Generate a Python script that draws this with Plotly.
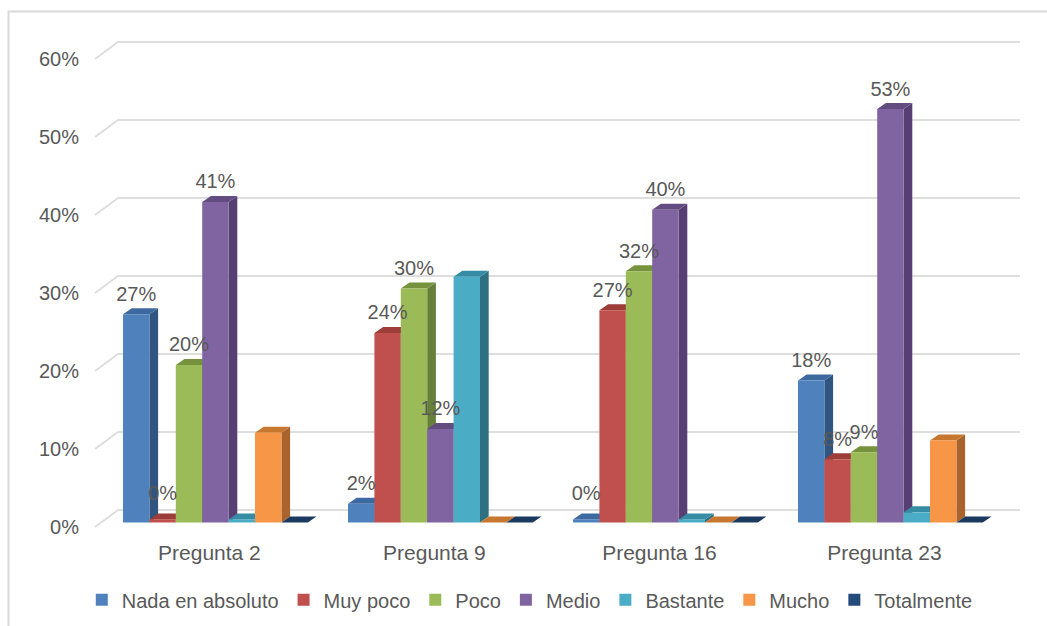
import plotly.graph_objects as go

categories = ["Pregunta 2", "Pregunta 9", "Pregunta 16", "Pregunta 23"]
series_names = ["Nada en absoluto", "Muy poco", "Poco", "Medio", "Bastante", "Mucho", "Totalmente"]

nada = [26.7, 2.4, 0.4, 18.2]
muy_poco = [0.4, 24.3, 27.2, 8.1]
poco = [20.2, 30.0, 32.2, 9.0]
medio = [41.1, 12.0, 40.1, 53.0]
bastante = [0.4, 31.5, 0.4, 1.3]
mucho = [11.5, 0.0, 0.0, 10.5]
totalmente = [0.0, 0.0, 0.0, 0.0]

labels_nada = ["27%", "2%", "0%", "18%"]
labels_muy_poco = ["0%", "24%", "27%", "8%"]
labels_poco = ["20%", "30%", "32%", "9%"]
labels_medio = ["41%", "12%", "40%", "53%"]
labels_none = [None, None, None, None]

tick_vals = [0, 10, 20, 30, 40, 50, 60]
tick_text = ["0%", "10%", "20%", "30%", "40%", "50%", "60%"]

front = ["#4F81BD", "#C0504D", "#9BBB59", "#8064A2", "#4BACC6", "#F79646", "#254A7C"]
side = ["#2F5580", "#8E3A38", "#66803A", "#573F74", "#2F6F82", "#A9642B", "#1C3A60"]
top = ["#3C6AA0", "#9C3D3A", "#76923C", "#634C80", "#358CA4", "#C7772F", "#1C3A60"]

values = [nada, muy_poco, poco, medio, bastante, mucho, totalmente]
labels = [labels_nada, labels_muy_poco, labels_poco, labels_medio, labels_none, labels_none, labels_none]

# pixel scales of the drawing
PX_PER_GROUP = 225.0
PX_PER_PCT = 7.8
BAR_W = 26.4 / PX_PER_GROUP
DX = 8.7 / PX_PER_GROUP
DY = 6.0 / PX_PER_PCT
WALL_DX = 23.0 / PX_PER_GROUP
WALL_DY = 12.5 / PX_PER_PCT
FRONT_OFF = 4.5 / PX_PER_PCT
LABEL_UP = 18.5 / PX_PER_PCT
ZERO_LABEL_EXTRA = 5.5 / PX_PER_PCT

W, H = 1047, 626
ML, MB, MT = 80, 91, 10
MR = 10
X_CENTER = 215.4  # pixel of group 0 centre
Y_ZERO = 522.5    # pixel of value 0
xr = [(ML - X_CENTER) / PX_PER_GROUP, (W - MR - X_CENTER) / PX_PER_GROUP]
yr = [(Y_ZERO - (H - MB)) / PX_PER_PCT, (Y_ZERO - MT) / PX_PER_PCT]

fig = go.Figure()

# back wall grid lines with their side diagonal
gx0 = (95 - X_CENTER) / PX_PER_GROUP
gx2 = (1020 - X_CENTER) / PX_PER_GROUP
grid_x, grid_y = [], []
for v in tick_vals:
    grid_x += [gx0, gx0 + WALL_DX, gx2, None]
    grid_y += [v - FRONT_OFF, v + WALL_DY, v + WALL_DY, None]
fig.add_trace(go.Scatter(x=grid_x, y=grid_y, mode="lines", line=dict(color="#DEDEDE", width=2),
                         showlegend=False, hoverinfo="skip", cliponaxis=False, zorder=0))

n = len(series_names)
for s in range(n):
    centres = [g + (s - (n - 1) / 2) * BAR_W for g in range(len(categories))]
    zbase = 1 + 2 * s
    sx, sy, tx, ty = [], [], [], []
    for c, v in zip(centres, values[s]):
        r = c + BAR_W / 2
        l = c - BAR_W / 2
        sx += [r, r + DX, r + DX, r, r, None]
        sy += [0, DY, v + DY, v, 0, None]
        tx += [l, l + DX, r + DX, r, l, None]
        ty += [v, v + DY, v + DY, v, v, None]
    fig.add_trace(go.Scatter(x=sx, y=sy, mode="lines", fill="toself", fillcolor=side[s],
                             line=dict(width=0, color=side[s]), showlegend=False,
                             hoverinfo="skip", zorder=zbase))
    fig.add_trace(go.Scatter(x=tx, y=ty, mode="lines", fill="toself", fillcolor=top[s],
                             line=dict(width=0, color=top[s]), showlegend=False,
                             hoverinfo="skip", zorder=zbase))
    fig.add_trace(go.Bar(x=list(range(len(categories))), y=values[s], name=series_names[s],
                         marker=dict(color=front[s], line=dict(width=0)), zorder=zbase + 1,
                         offsetgroup=str(s)))
    lab_y = [v + LABEL_UP + (ZERO_LABEL_EXTRA if lab == "0%" else 0)
             for v, lab in zip(values[s], labels[s])]
    fig.add_trace(go.Scatter(x=centres, y=lab_y, mode="text", text=labels[s], textposition="middle center",
                             textfont=dict(family="Liberation Sans", size=20, color="#595959"),
                             showlegend=False, hoverinfo="skip", cliponaxis=False, zorder=100))

PW = W - ML - MR
PH = H - MT - MB
fx0 = (8.5 - ML) / PW
fx1 = (W - ML) / PW
fy0 = -MB / PH
fy1 = (H - MB - 11.5) / PH
frame_path = f"M{fx0},{fy0} L{fx0},{fy1} L{fx1},{fy1}"

fig.update_layout(
    width=W, height=H, autosize=False,
    margin=dict(l=ML, r=MR, t=MT, b=MB, pad=0),
    paper_bgcolor="white", plot_bgcolor="white",
    barmode="group", bargap=1 - n * BAR_W, bargroupgap=0,
    font=dict(family="Liberation Sans", size=20, color="#595959"),
    legend=dict(orientation="h", x=0.506, xanchor="center", xref="container", y=0.042, yanchor="middle",
                yref="container", font=dict(size=20, color="#595959"), itemwidth=30, traceorder="normal"),
    xaxis=dict(range=xr, tickmode="array", tickvals=list(range(4)), ticktext=categories,
               showgrid=False, zeroline=False, showline=False, ticks="", ticklabelshift=-6,
               ticklabelstandoff=3, tickfont=dict(size=21, color="#595959")),
    yaxis=dict(range=yr, tickmode="array", tickvals=tick_vals, ticktext=tick_text,
               showgrid=False, zeroline=False, showline=False, ticks="", ticklabelshift=4,
               tickfont=dict(size=20, color="#595959")),
    shapes=[dict(type="path", xref="paper", yref="paper", path=frame_path,
                 line=dict(color="#D9D9D9", width=2), layer="below")],
)
fig.write_html("out.html", post_script="document.body.style.margin='0';",
               config={"displayModeBar": False})
